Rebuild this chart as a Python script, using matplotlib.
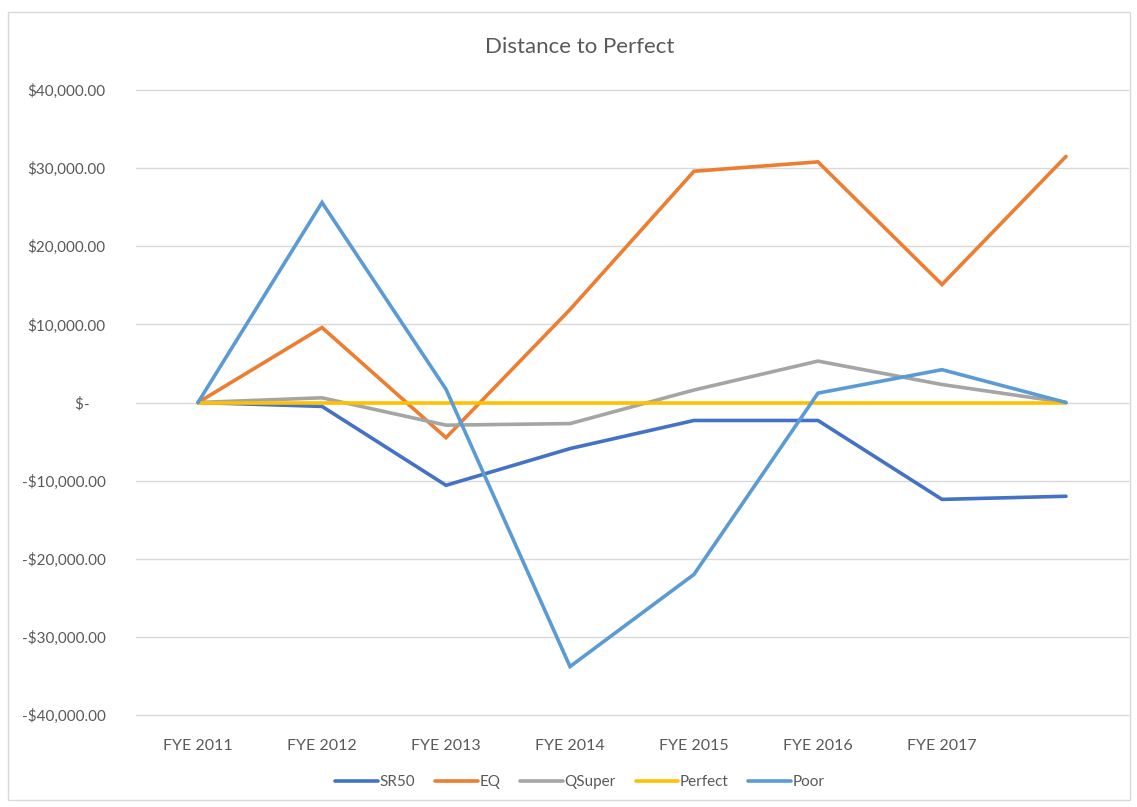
import matplotlib
matplotlib.use("Agg")
import matplotlib.pyplot as plt
from matplotlib.patches import Rectangle

categories = ["FYE 2011", "FYE 2012", "FYE 2013", "FYE 2014", "FYE 2015", "FYE 2016", "FYE 2017", ""]
sr50 = [0, -500, -10600, -5900, -2300, -2300, -12400, -12000]
eq = [0, 9600, -4500, 11900, 29600, 30800, 15100, 31500]
qsuper = [0, 600, -2900, -2700, 1600, 5300, 2300, 0]
perfect = [0, 0, 0, 0, 0, 0, 0, 0]
poor = [0, 25600, 1700, -33800, -22000, 1200, 4200, 0]
series_names = ["SR50", "EQ", "QSuper", "Perfect", "Poor"]
yticks = [-40000, -30000, -20000, -10000, 0, 10000, 20000, 30000, 40000]

colors = ["#4472C4", "#ED7D31", "#A5A5A5", "#FFC000", "#5B9BD5"]

plt.rcParams['font.family'] = ['Lato', 'DejaVu Sans']

W, H = 1137, 807
fig = plt.figure(figsize=(W / 100, H / 100), dpi=100)
fig.patches.append(Rectangle((8 / W, 1 - 800 / H), 1122 / W, 788 / H, transform=fig.transFigure,
                             fill=False, edgecolor="#D9D9D9", linewidth=1))

left, right, top, bottom = 136, 1128, 90, 715
ax = fig.add_axes([left / W, 1 - bottom / H, (right - left) / W, (bottom - top) / H])

x = list(range(len(categories)))
data = [sr50, eq, qsuper, perfect, poor]
for name, vals, c in zip(series_names, data, colors):
    ax.plot(x, vals, color=c, lw=2.6, label=name, solid_capstyle="round", solid_joinstyle="miter")

ax.set_xlim(-0.5, len(categories) - 0.5)
ax.set_ylim(-40000, 40000)
ax.set_yticks(yticks)

def fmt(v):
    if v == 0:
        return "$-    "
    s = "${:,.2f}".format(abs(v))
    return "-" + s if v < 0 else s

ax.set_yticklabels([fmt(v) for v in yticks])
ax.set_xticks(x)
ax.set_xticklabels(categories)
ax.tick_params(axis="both", length=0, colors="#595959", labelsize=11)
ax.tick_params(axis="x", labelsize=11.5)
ax.tick_params(axis="y", pad=22)
ax.tick_params(axis="x", pad=17)
ax.grid(axis="y", color="#D9D9D9", lw=1)
for gl in ax.get_ygridlines():
    gl.set_clip_on(False)
ax.set_axisbelow(True)
for s in ax.spines.values():
    s.set_visible(False)

fig.text(580 / W, 1 - 47 / H, "Distance to Perfect", ha="center", va="center", fontsize=16, color="#595959")

leg = fig.legend(loc="center", bbox_to_anchor=(580 / W, 1 - 782 / H), ncol=5, frameon=False,
                 fontsize=11, handlelength=2.8, columnspacing=1.3, handletextpad=0.1)
for t in leg.get_texts():
    t.set_color("#595959")

fig.savefig("out.png", dpi=100)
